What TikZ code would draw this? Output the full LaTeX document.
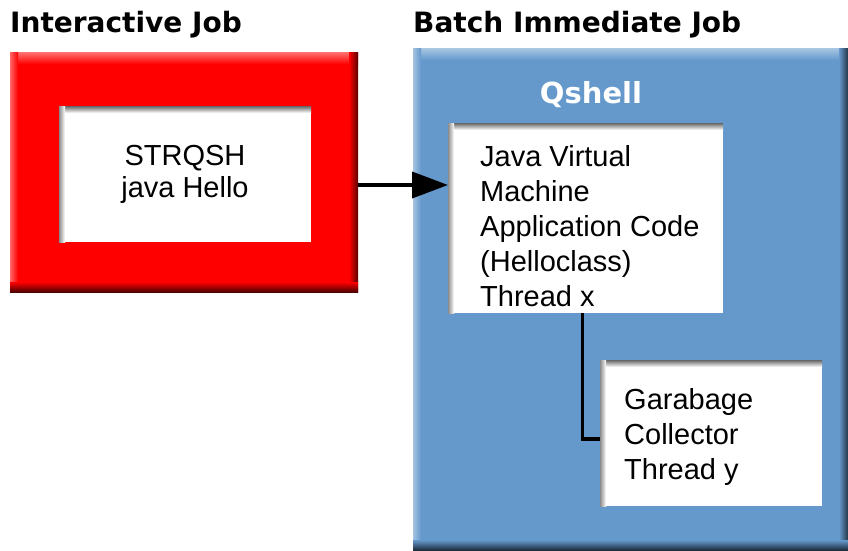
\documentclass[tikz,border=0pt]{standalone}
\usepackage{fontspec}
\setmainfont{Liberation Sans}
\newfontfamily\headfont{DejaVu Sans}
\usetikzlibrary{arrows.meta}

\definecolor{jobred}{RGB}{255,0,0}
\definecolor{jobblue}{RGB}{101,153,204}

\tikzset{
  panel/.style={draw=none, inner sep=0pt, outer sep=0pt, anchor=north west},
  whitebox/.style={panel, fill=white},
  boxtext/.style={inner sep=0pt, align=left, anchor=north west,
    font=\fontsize{29}{35}\selectfont},
  headtext/.style={inner sep=0pt, anchor=base west,
    font=\headfont\bfseries\fontsize{28}{32}\selectfont},
  link/.style={line width=3.8pt, black}
}

% raised look of a panel: light top and left, dark bottom and right
\newcommand{\raisedpanel}[2]{%
  \shade[top color=#2!55!white, bottom color=#2]
    (#1.north west) rectangle ([yshift=-12pt]#1.north east);
  \shade[left color=#2!60!white, right color=#2]
    (#1.north west) rectangle ([xshift=8pt]#1.south west);
  \shade[left color=#2, right color=#2!35!black]
    ([xshift=-9pt]#1.north east) rectangle (#1.south east);
  \shade[top color=#2, bottom color=#2!30!black]
    ([yshift=10pt]#1.south west) rectangle (#1.south east);
}

% sunken look of a white box: shadow along top and left
\newcommand{\sunkenbox}[1]{%
  \shade[top color=black!60, bottom color=white]
    (#1.north west) rectangle ([yshift=-7pt]#1.north east);
  \shade[left color=black!45, right color=white]
    (#1.north west) rectangle ([xshift=6pt]#1.south west);
}

\begin{document}
\begin{tikzpicture}[x=1pt, y=-1pt]
  \useasboundingbox (0,0) rectangle (848,550);
  \fill[white] (0,0) rectangle (848,550);

  % Headings
  \node[headtext] (interactivehead) at (10,32) {Interactive Job};
  \node[headtext] (batchhead) at (413,32) {Batch Immediate Job};

  % Interactive job panel
  \node[panel, fill=jobred, minimum width=348pt, minimum height=240pt]
    (interactive) at (10,52) {};
  \raisedpanel{interactive}{jobred}
  \node[whitebox, minimum width=252pt, minimum height=136pt]
    (strqsh) at (59,106) {};
  \sunkenbox{strqsh}
  \node[boxtext, anchor=center, align=center,
    font=\fontsize{29}{32}\selectfont] (strqshtext) at (strqsh.center)
    {STRQSH\\java Hello};

  % Batch immediate job panel
  \node[panel, fill=jobblue, minimum width=435pt, minimum height=502pt]
    (batch) at (413,48) {};
  \raisedpanel{batch}{jobblue}
  \node[inner sep=0pt, text=white, font=\headfont\bfseries\fontsize{29}{32}\selectfont]
    (qshell) at (591,95) {Qshell};

  % Java virtual machine box
  \node[whitebox, minimum width=275pt, minimum height=190pt]
    (jvm) at (448,123) {};
  \sunkenbox{jvm}
  \node[boxtext] (jvmtext) at ([xshift=32pt,yshift=-22pt]jvm.north west)
    {Java Virtual\\Machine\\Application Code\\(Helloclass)\\Thread x};

  % Garbage collector box
  \node[whitebox, minimum width=222pt, minimum height=146pt]
    (gc) at (600,360) {};
  \sunkenbox{gc}
  \node[boxtext] (gctext) at ([xshift=24pt,yshift=-28pt]gc.north west)
    {Garabage\\Collector\\Thread y};

  % Arrow from interactive job into the JVM
  \coordinate (start) at ([yshift=-13pt]interactive.east);
  \draw[link, -{Triangle[length=36pt, width=26pt]}] (start) -- (start -| jvm.west);

  % Line from JVM thread to garbage collector thread
  \draw[link] ([xshift=-3pt]jvm.south) |- ([yshift=-6pt]gc.west);
\end{tikzpicture}
\end{document}
